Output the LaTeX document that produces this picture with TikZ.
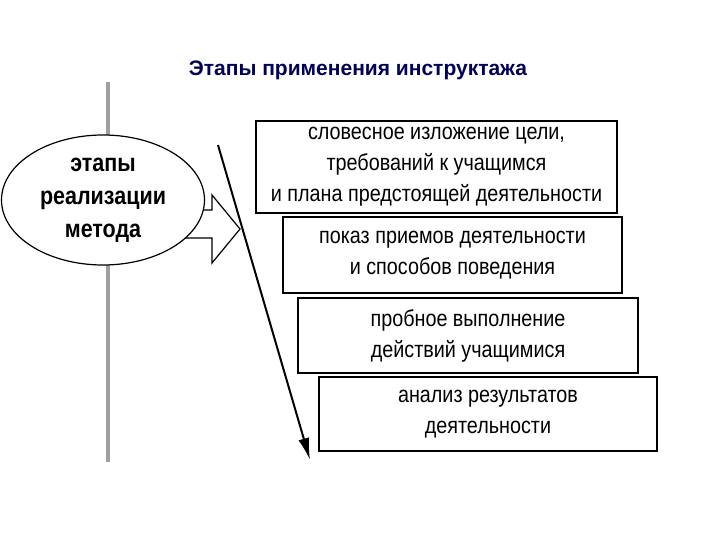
\documentclass[tikz,border=0pt]{standalone}
\usepackage{fontspec}
\setmainfont{Liberation Sans}
\newfontfamily\narrowfont[FakeStretch=0.86]{Liberation Sans}
\usetikzlibrary{shapes.geometric,arrows.meta}
\begin{document}
\begin{tikzpicture}[x=1pt,y=-1pt,
  stage/.style={draw,line width=1.4pt,fill=white,inner sep=0pt},
  txt/.style={font=\narrowfont\fontsize{23}{31}\selectfont,align=center}]
\useasboundingbox (0,0) rectangle (720,540);
\node[font=\bfseries\fontsize{21}{24}\selectfont,text=blue!35!black] (title) at (358,70) {Этапы применения инструктажа};
\draw[line width=3.5pt,gray!75] (108,82) -- (108,462);
\coordinate (ba) at (190,210);
\draw[line width=1.2pt,fill=white] (ba) -- (212,210) -- (212,195) -- (240,229) -- (212,263) -- (212,238) -- (185,238) -- cycle;
\node[draw,ellipse,line width=1.2pt,fill=white,minimum width=203pt,minimum height=130pt,inner sep=0pt,
  font=\narrowfont\bfseries\fontsize{25}{33}\selectfont,align=center] (el) at (103,200) {этапы\\реализации\\метода};
\draw[stage] (256,121) rectangle (617,213);
\node[txt] (b1) at (436.5,167) {словесное изложение цели,\\требований к учащимся\\и плана предстоящей деятельности};
\draw[stage] (283,217) rectangle (622,293);
\node[txt] (b2) at (452.5,255) {показ приемов деятельности\\и способов поведения};
\draw[stage] (298,298) rectangle (638,373);
\node[txt] (b3) at (468,335.5) {пробное выполнение\\действий учащимися};
\draw[stage] (319,377) rectangle (657,451);
\node[txt] (b4) at (488,414) {анализ результатов\\деятельности};
\coordinate (as) at (218,145);
\coordinate (ae) at (310,460);
\draw[line width=2pt,-{Latex[length=22pt,width=11pt]}] (as) -- (ae);
\end{tikzpicture}
\end{document}
